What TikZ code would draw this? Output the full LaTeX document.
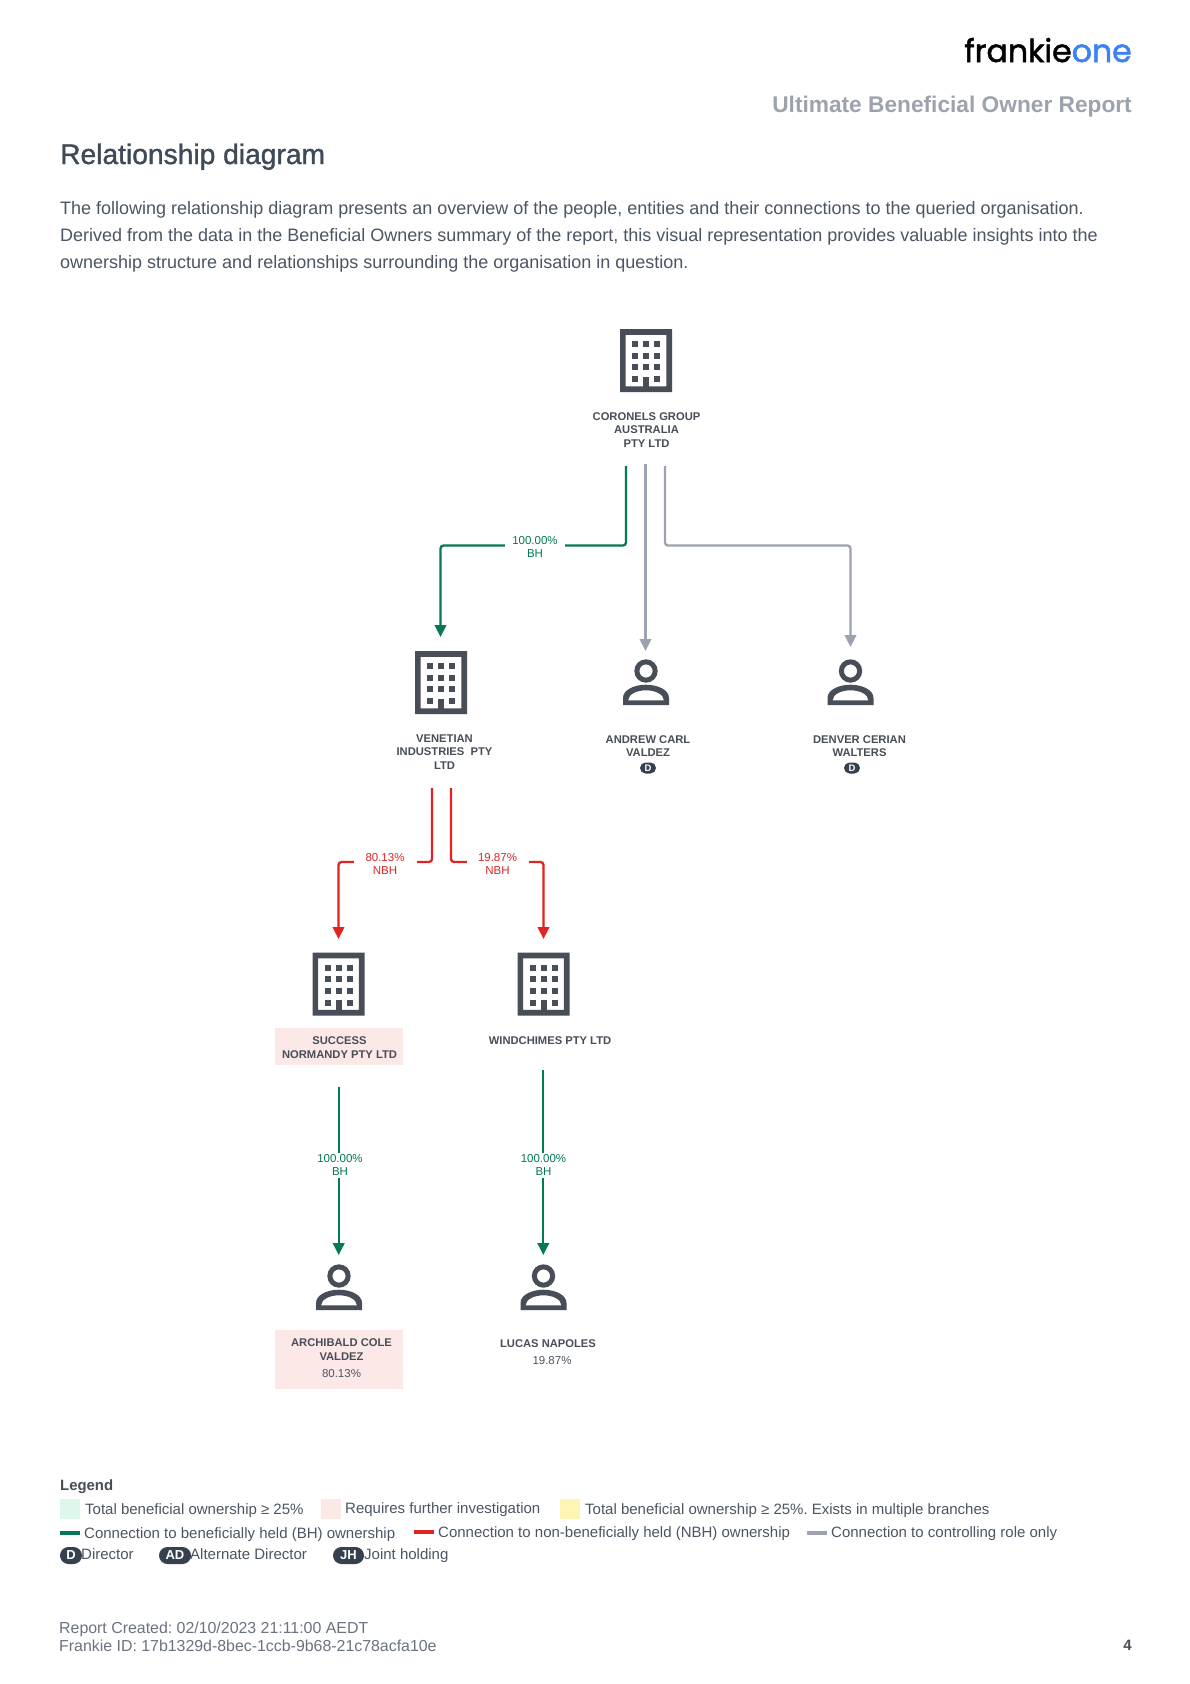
\documentclass[tikz,border=0pt]{standalone}
\usepackage{fontspec}
\setmainfont{Liberation Sans}
\newfontfamily\medfont[FakeBold=1.2]{Liberation Sans}
\newfontfamily\logofont[FakeBold=1.6]{Poppins}
\usetikzlibrary{arrows.meta}
\AtBeginDocument{\frenchspacing}
\definecolor{ink}{HTML}{474E57}
\definecolor{headink}{HTML}{3E4A56}
\definecolor{body}{HTML}{4B5563}
\definecolor{muted}{HTML}{9CA3AF}
\definecolor{foot}{HTML}{6B7280}
\definecolor{bhgreen}{HTML}{047857}
\definecolor{nbhred}{HTML}{E02424}
\definecolor{rolegray}{HTML}{9CA3AF}
\definecolor{pinkbg}{HTML}{FDE8E8}
\definecolor{greenbg}{HTML}{DEF7EC}
\definecolor{yellowbg}{HTML}{FDF6B2}
\definecolor{pill}{HTML}{36404F}
\definecolor{logoblue}{HTML}{3B82F6}
\tikzset{
  x=1pt,y=-1pt,
  conn/.style={line width=2.3pt,rounded corners=3pt,-{Triangle[length=12pt,width=11.5pt]}},
  bh/.style={conn,draw=bhgreen},
  nbh/.style={conn,draw=nbhred},
  role/.style={conn,draw=rolegray},
  entity/.style={align=center,inner sep=0pt,text=ink,font=\bfseries\fontsize{11.2}{13.2}\selectfont,anchor=base},
  pct/.style={align=center,inner sep=0pt,text=body,font=\fontsize{11.5}{13}\selectfont,anchor=base},
  edgelab/.style={align=center,inner sep=0pt,font=\fontsize{11.5}{13}\selectfont,fill=white},
  badge/.style={rounded corners=5.5pt,fill=pill,text=white,inner sep=0pt,minimum width=16pt,minimum height=11pt,font=\bfseries\fontsize{9.5}{10}\selectfont},
  chip/.style={rounded corners=8.5pt,fill=pill,text=white,inner sep=0pt,minimum height=17pt,font=\bfseries\fontsize{13}{14}\selectfont},
  legtext/.style={anchor=base west,inner sep=0pt,text=body,font=\fontsize{15}{16}\selectfont},
  swatch/.style={inner sep=0pt,minimum width=20pt,minimum height=20pt,anchor=north west},
  legrule/.style={inner sep=0pt,minimum width=20pt,minimum height=4pt},
  para/.style={anchor=base west,inner sep=0pt,text=body,font=\fontsize{18}{20}\selectfont},
  foottext/.style={anchor=base west,inner sep=0pt,text=foot,font=\fontsize{15.9}{17}\selectfont},
  pinkbox/.style={fill=pinkbg,inner sep=0pt,anchor=north west,minimum width=127.5pt},
}
\newcommand{\buildingicon}[2]{%
  \begin{scope}[shift={(#1,#2)}]
    \fill[ink,even odd rule] (-26,0) rectangle (26,63) (-20.3,5.8) rectangle (20.3,57.3);
    \foreach \r in {12,23.5,35}{\foreach \c in {-14,-3,8}{\fill[ink] (\c,\r) rectangle ++(6,6);}}
    \fill[ink] (-14,47) rectangle ++(6,6);
    \fill[ink] (8,47) rectangle ++(6,6);
    \fill[ink] (-3,47.5) rectangle (3,60);
  \end{scope}}
\newcommand{\personicon}[2]{%
  \begin{scope}[shift={(#1,#2)}]
    \fill[ink,even odd rule] (0,0) circle (11.7) (0,0) circle (6.6);
    \fill[ink,even odd rule]
      (-23,34) -- (-23,27) .. controls (-23,19) and (-12,13.7) .. (0,13.7) .. controls (12,13.7) and (23,19) .. (23,27) -- (23,34) -- cycle
      (-18,29.4) -- (18,29.4) .. controls (17.5,23) and (9,19.3) .. (0,19.3) .. controls (-9,19.3) and (-17.5,23) .. (-18,29.4) -- cycle;
  \end{scope}}
\begin{document}
\begin{tikzpicture}
\useasboundingbox (0,0) rectangle (1190,1684);
\fill[white] (0,0) rectangle (1190,1684);

% header
\node[anchor=base east,inner sep=0pt,font=\logofont\fontsize{31.6}{36}\selectfont] (logo) at (1132,62) {frankie\textcolor{logoblue}{one}};
\node[anchor=base east,inner sep=0pt,text=muted,font=\bfseries\fontsize{22.7}{28}\selectfont] (report) at (1132,112) {Ultimate Beneficial Owner Report};
\node[anchor=base west,inner sep=0pt,text=headink,font=\medfont\fontsize{28.2}{32}\selectfont] (heading) at (60,164) {Relationship diagram};
\node[para] (p1) at (60,214) {The following relationship diagram presents an overview of the people, entities and their connections to the queried organisation.};
\node[para] (p2) at (60,241) {Derived from the data in the Beneficial Owners summary of the report, this visual representation provides valuable insights into the};
\node[para] (p3) at (60,268) {ownership structure and relationships surrounding the organisation in question.};

% highlight boxes
\node[pinkbox,minimum height=37pt] (successbg) at (275,1028) {};
\node[pinkbox,minimum height=59pt] (archibaldbg) at (275,1330) {};

% icons
\buildingicon{646}{329}
\buildingicon{441}{651}
\buildingicon{338.5}{952.5}
\buildingicon{543.5}{952.5}
\personicon{646}{671}
\personicon{850.5}{671}
\personicon{339}{1276}
\personicon{543.5}{1276}

% anchors of connectors
\coordinate (coronelsA) at (626,466);
\coordinate (coronelsB) at (645.5,464);
\coordinate (coronelsC) at (665,466);
\coordinate (venetianIn) at (440.5,637);
\coordinate (andrewIn) at (645.5,651);
\coordinate (denverIn) at (850.5,647);
\coordinate (venetianA) at (432,788);
\coordinate (venetianB) at (451,788);
\coordinate (successIn) at (338.5,939);
\coordinate (windIn) at (543.5,939);
\coordinate (successOut) at (338.7,1087);
\coordinate (windOut) at (543.3,1070);
\coordinate (archibaldIn) at (338.7,1255);
\coordinate (lucasIn) at (543.3,1255);

% connectors
\draw[bh] (coronelsA) |- (440.5,545.5) -- (venetianIn);
\draw[role] (coronelsB) -- (andrewIn);
\draw[role] (coronelsC) |- (850.5,545.5) -- (denverIn);
\draw[nbh] (venetianA) |- (338.5,862) -- (successIn);
\draw[nbh] (venetianB) |- (543.5,862) -- (windIn);
\draw[bh] (successOut) -- (archibaldIn);
\draw[bh] (windOut) -- (lucasIn);

% connector labels
\node[edgelab,text=bhgreen,minimum width=60pt,minimum height=28pt] (l1) at (535,547) {100.00\%\\BH};
\node[edgelab,text=nbhred,minimum width=63pt,minimum height=28pt] (l2) at (385,864) {80.13\%\\NBH};
\node[edgelab,text=nbhred,minimum width=62pt,minimum height=28pt] (l3) at (497.5,864) {19.87\%\\NBH};
\node[edgelab,text=bhgreen,minimum height=25pt] (l4) at (340,1165) {100.00\%\\BH};
\node[edgelab,text=bhgreen,minimum height=25pt] (l5) at (543.5,1165) {100.00\%\\BH};

% entity labels
\node[entity] (coronels) at (646.5,447) {CORONELS GROUP\\AUSTRALIA\\PTY LTD};
\node[entity] (venetian) at (444.5,769) {VENETIAN\\INDUSTRIES\ \ PTY\\LTD};
\node[entity] (andrew) at (648,756.5) {ANDREW CARL\\VALDEZ};
\node[entity] (denver) at (859.5,756.5) {DENVER CERIAN\\WALTERS};
\node[badge] (andrewD) at (648,768) {D};
\node[badge] (denverD) at (852,768) {D};
\node[entity] (success) at (339.5,1058) {SUCCESS\\NORMANDY PTY LTD};
\node[entity] (wind) at (550,1044) {WINDCHIMES PTY LTD};
\node[entity] (archibald) at (341.5,1360) {ARCHIBALD COLE\\VALDEZ};
\node[pct] (archibaldP) at (341.5,1377) {80.13\%};
\node[entity] (lucas) at (548,1347) {LUCAS NAPOLES};
\node[pct] (lucasP) at (552,1364) {19.87\%};

% legend
\node[anchor=base west,inner sep=0pt,text=ink,font=\bfseries\fontsize{14.9}{16}\selectfont] (legend) at (60,1490) {Legend};
\node[swatch,fill=greenbg] (sw1) at (60,1499) {};
\node[legtext] (t1) at (85,1514) {Total beneficial ownership ≥ 25\%};
\node[swatch,fill=pinkbg] (sw2) at (321,1499) {};
\node[legtext] (t2) at (345,1513) {Requires further investigation};
\node[swatch,fill=yellowbg] (sw3) at (560,1499) {};
\node[legtext] (t3) at (585,1514) {Total beneficial ownership ≥ 25\%. Exists in multiple branches};
\node[legrule,fill=bhgreen] (r1) at (70,1533) {};
\node[legtext] (t4) at (84,1538) {Connection to beneficially held (BH) ownership};
\node[legrule,fill=nbhred] (r2) at (424,1532) {};
\node[legtext] (t5) at (438,1537) {Connection to non-beneficially held (NBH) ownership};
\node[legrule,fill=rolegray] (r3) at (817,1533) {};
\node[legtext] (t6) at (831,1537) {Connection to controlling role only};
\node[chip,minimum width=22pt] (c1) at (71,1555.5) {D};
\node[legtext] (t7) at (81,1559) {Director};
\node[chip,minimum width=32pt] (c2) at (175,1555.5) {AD};
\node[legtext] (t8) at (190,1559) {Alternate Director};
\node[chip,minimum width=31pt] (c3) at (348.5,1555.5) {JH};
\node[legtext] (t9) at (364,1559) {Joint holding};

% footer
\node[foottext] (f1) at (59,1633) {Report Created: 02/10/2023 21:11:00 AEDT};
\node[foottext] (f2) at (59,1651) {Frankie ID: 17b1329d-8bec-1ccb-9b68-21c78acfa10e};
\node[anchor=base east,inner sep=0pt,text=ink,font=\bfseries\fontsize{15}{16}\selectfont] (page) at (1132,1650) {4};
\end{tikzpicture}
\end{document}
